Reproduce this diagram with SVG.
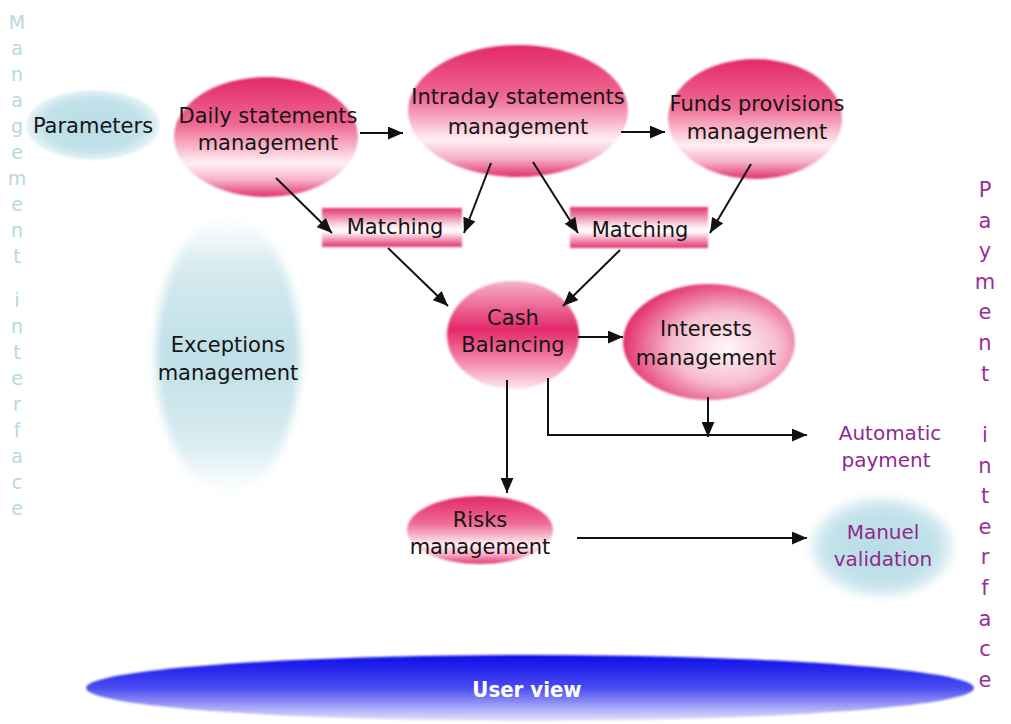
<svg xmlns="http://www.w3.org/2000/svg" width="1011" height="724" viewBox="0 0 1011 724">
<style>
.t{font-family:"DejaVu Sans","Liberation Sans",sans-serif;font-size:21px;fill:#151515;text-anchor:middle}
.p{font-family:"DejaVu Sans","Liberation Sans",sans-serif;font-size:20px;fill:#8e2a8e;text-anchor:middle}
.vl{font-family:"DejaVu Sans","Liberation Sans",sans-serif;font-size:19px;fill:#b4d9e0;text-anchor:middle}
.vr{font-family:"DejaVu Sans","Liberation Sans",sans-serif;font-size:21px;fill:#9a2e9a;text-anchor:middle}
.c{stroke:#111;stroke-width:2;fill:none}
</style>
<defs>
<linearGradient id="pink" x1="0" y1="0" x2="0" y2="1">
<stop offset="0" stop-color="#e2286a"/>
<stop offset="0.4" stop-color="#ef6a94"/>
<stop offset="0.72" stop-color="#fff0f4"/>
<stop offset="0.86" stop-color="#f6b0c6"/>
<stop offset="1" stop-color="#e2306b"/>
</linearGradient>
<linearGradient id="cash" x1="0" y1="0" x2="0" y2="1">
<stop offset="0" stop-color="#f6b3c8"/>
<stop offset="0.45" stop-color="#e2286a"/>
<stop offset="0.75" stop-color="#f48aab"/>
<stop offset="1" stop-color="#fde8ef"/>
</linearGradient>
<radialGradient id="intr" cx="0.6" cy="0.55" r="0.62">
<stop offset="0" stop-color="#fff8fa"/>
<stop offset="0.5" stop-color="#f7bcd0"/>
<stop offset="1" stop-color="#e2286a"/>
</radialGradient>
<linearGradient id="match" x1="0" y1="0" x2="0" y2="1">
<stop offset="0" stop-color="#e2306b"/>
<stop offset="0.45" stop-color="#fbe1ea"/>
<stop offset="0.6" stop-color="#fff"/>
<stop offset="1" stop-color="#e2306b"/>
</linearGradient>
<radialGradient id="blue" cx="0.5" cy="0.5" r="0.5">
<stop offset="0" stop-color="#b8dce6"/>
<stop offset="0.75" stop-color="#c3e2ea"/>
<stop offset="1" stop-color="#e8f4f7"/>
</radialGradient>
<linearGradient id="exc" x1="0" y1="0" x2="0" y2="1">
<stop offset="0" stop-color="#ffffff"/>
<stop offset="0.2" stop-color="#d4eaef"/>
<stop offset="0.5" stop-color="#bfdfe7"/>
<stop offset="0.8" stop-color="#d6ebf0"/>
<stop offset="1" stop-color="#ffffff"/>
</linearGradient>
<linearGradient id="user" x1="0" y1="0" x2="0" y2="1">
<stop offset="0" stop-color="#0c0ce8"/>
<stop offset="0.5" stop-color="#4a4cf2"/>
<stop offset="1" stop-color="#e4e4fc"/>
</linearGradient>
<filter id="soft" x="-10%" y="-10%" width="120%" height="120%"><feGaussianBlur stdDeviation="1.2"/></filter>
<filter id="soft2" x="-20%" y="-20%" width="140%" height="140%"><feGaussianBlur stdDeviation="4"/></filter>
<marker id="ah" viewBox="0 0 14 12" refX="14" refY="6" markerWidth="15" markerHeight="13" markerUnits="userSpaceOnUse" orient="auto">
<path d="M0,0 L14,6 L0,12 z" fill="#111"/>
</marker>
</defs>
<rect width="1011" height="724" fill="#fff"/>

<g id="mgmt-interface">
<text class="vl" x="17" y="29">M</text><text class="vl" x="17" y="55">a</text><text class="vl" x="17" y="81">n</text><text class="vl" x="17" y="107">a</text><text class="vl" x="17" y="133">g</text><text class="vl" x="17" y="159">e</text><text class="vl" x="17" y="185">m</text><text class="vl" x="17" y="211">e</text><text class="vl" x="17" y="237">n</text><text class="vl" x="17" y="263">t</text>
<text class="vl" x="17" y="307">i</text><text class="vl" x="17" y="333">n</text><text class="vl" x="17" y="359">t</text><text class="vl" x="17" y="385">e</text><text class="vl" x="17" y="411">r</text><text class="vl" x="17" y="437">f</text><text class="vl" x="17" y="463">a</text><text class="vl" x="17" y="489">c</text><text class="vl" x="17" y="515">e</text>
</g>

<g id="pay-interface">
<text class="vr" x="985" y="197">P</text><text class="vr" x="985" y="228">a</text><text class="vr" x="985" y="258">y</text><text class="vr" x="985" y="289">m</text><text class="vr" x="985" y="319">e</text><text class="vr" x="985" y="350">n</text><text class="vr" x="985" y="381">t</text>
<text class="vr" x="985" y="442">i</text><text class="vr" x="985" y="473">n</text><text class="vr" x="985" y="503">t</text><text class="vr" x="985" y="534">e</text><text class="vr" x="985" y="564">r</text><text class="vr" x="985" y="595">f</text><text class="vr" x="985" y="626">a</text><text class="vr" x="985" y="656">c</text><text class="vr" x="985" y="687">e</text>
</g>

<g id="parameters">
<ellipse cx="93" cy="125" rx="67" ry="35" fill="url(#blue)" filter="url(#soft)"/>
<text class="t" x="93" y="133">Parameters</text>
</g>
<g id="exceptions">
<ellipse cx="228" cy="355" rx="72" ry="138" fill="url(#exc)" filter="url(#soft2)"/>
<text class="t" x="228" y="352">Exceptions</text>
<text class="t" x="228" y="380">management</text>
</g>
<g id="daily">
<ellipse cx="266" cy="137" rx="92" ry="60" fill="url(#pink)" filter="url(#soft)"/>
<text class="t" x="268" y="123">Daily statements</text>
<text class="t" x="268" y="150">management</text>
</g>
<g id="intraday">
<ellipse cx="518" cy="111" rx="110" ry="66" fill="url(#pink)" filter="url(#soft)"/>
<text class="t" x="518" y="104">Intraday statements</text>
<text class="t" x="518" y="134">management</text>
</g>
<g id="funds">
<ellipse cx="755" cy="119" rx="87" ry="60" fill="url(#pink)" filter="url(#soft)"/>
<text class="t" x="757" y="111">Funds provisions</text>
<text class="t" x="757" y="139">management</text>
</g>
<g id="matching1">
<rect x="322" y="208" width="140" height="39" fill="url(#match)" filter="url(#soft)"/>
<text class="t" x="395" y="234">Matching</text>
</g>
<g id="matching2">
<rect x="570" y="207" width="138" height="41" fill="url(#match)" filter="url(#soft)"/>
<text class="t" x="640" y="237">Matching</text>
</g>
<g id="cash">
<ellipse cx="513" cy="335" rx="66" ry="54" fill="url(#cash)" filter="url(#soft)"/>
<text class="t" x="513" y="325">Cash</text>
<text class="t" x="513" y="352">Balancing</text>
</g>
<g id="interests">
<ellipse cx="709" cy="342" rx="86" ry="58" fill="url(#intr)" filter="url(#soft)"/>
<text class="t" x="706" y="336">Interests</text>
<text class="t" x="706" y="365">management</text>
</g>
<g id="automatic">
<text class="p" x="890" y="440">Automatic</text>
<text class="p" x="886" y="467">payment</text>
</g>
<g id="risks">
<ellipse cx="480" cy="530" rx="73" ry="34" fill="url(#pink)" filter="url(#soft)"/>
<text class="t" x="480" y="527">Risks</text>
<text class="t" x="480" y="554">management</text>
</g>
<g id="manuel">
<ellipse cx="882" cy="547" rx="72" ry="50" fill="url(#blue)" filter="url(#soft2)"/>
<text class="p" x="883" y="539">Manuel</text>
<text class="p" x="883" y="566">validation</text>
</g>
<g id="userview">
<ellipse cx="530" cy="688" rx="444" ry="33" fill="url(#user)" filter="url(#soft)"/>
<text x="527" y="697" style="font-family:'DejaVu Sans',sans-serif;font-size:22px;font-weight:bold;fill:#fff;text-anchor:middle" font-stretch="condensed">User view</text>
</g>

<g id="connectors">
<line class="c" x1="360" y1="133" x2="403" y2="133" marker-end="url(#ah)"/>
<line class="c" x1="621" y1="132" x2="665" y2="132" marker-end="url(#ah)"/>
<line class="c" x1="276" y1="178" x2="332" y2="233" marker-end="url(#ah)"/>
<line class="c" x1="491" y1="163" x2="464" y2="233" marker-end="url(#ah)"/>
<line class="c" x1="533" y1="162" x2="578" y2="233" marker-end="url(#ah)"/>
<line class="c" x1="751" y1="164" x2="710" y2="233" marker-end="url(#ah)"/>
<line class="c" x1="388" y1="248" x2="448" y2="306" marker-end="url(#ah)"/>
<line class="c" x1="620" y1="250" x2="563" y2="306" marker-end="url(#ah)"/>
<line class="c" x1="578" y1="337" x2="623" y2="337" marker-end="url(#ah)"/>
<line class="c" x1="507" y1="380" x2="507" y2="493" marker-end="url(#ah)"/>
<polyline class="c" points="548,378 548,435 807,435" marker-end="url(#ah)"/>
<line class="c" x1="708" y1="397" x2="708" y2="437" marker-end="url(#ah)"/>
<line class="c" x1="577" y1="538" x2="807" y2="538" marker-end="url(#ah)"/>
</g>
</svg>
